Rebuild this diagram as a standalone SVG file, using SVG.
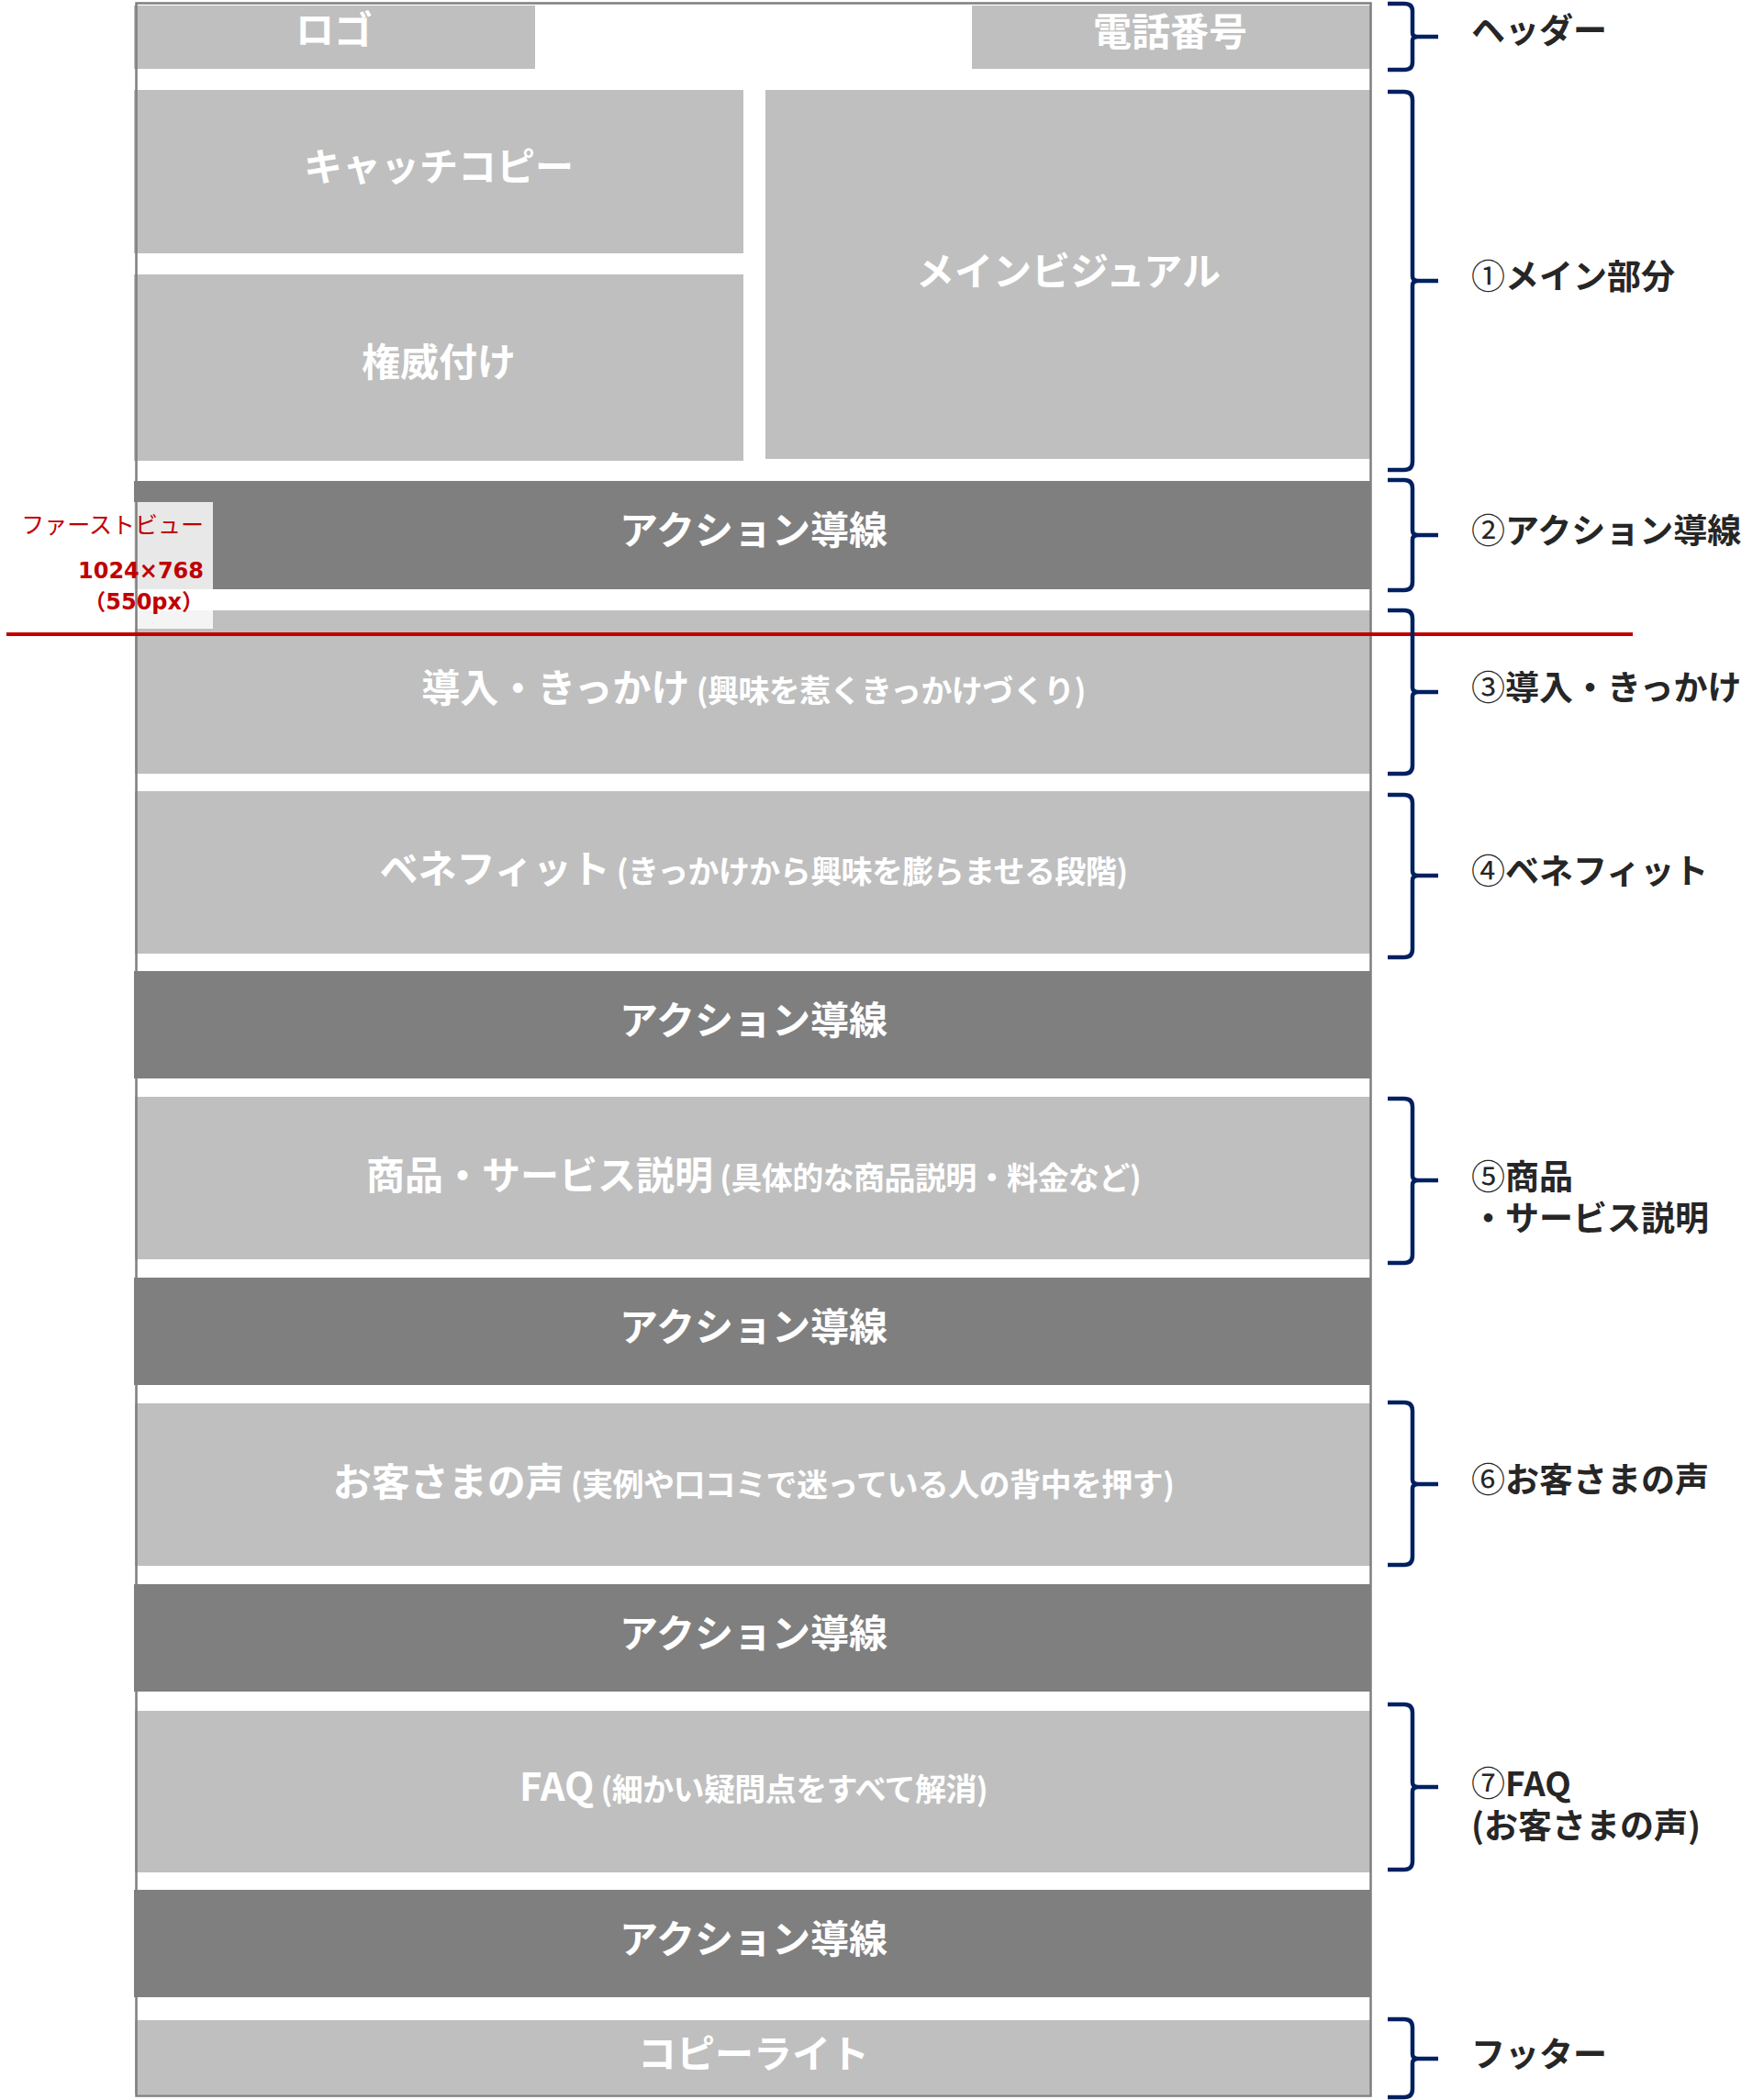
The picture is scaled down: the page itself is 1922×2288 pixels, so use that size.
<svg xmlns="http://www.w3.org/2000/svg" width="1922" height="2288" viewBox="0 0 1922 2288">
<style>
.lt{fill:#bfbfbf}
.ac{fill:#7f7f7f}
.bt{font-family:"Noto Sans CJK JP","Noto Sans",sans-serif;font-weight:700;font-size:42px;fill:#ffffff;text-anchor:middle}
.sm{font-size:34px;letter-spacing:-0.6px}
.lb{font-family:"Noto Sans CJK JP","Noto Sans",sans-serif;font-weight:700;font-size:37px;fill:#262626}
.cd{font-weight:400}
.brace{fill:none;stroke:#002060;stroke-width:4.5;stroke-linecap:butt;stroke-linejoin:round}
.fv{font-family:"Noto Sans CJK JP",sans-serif;font-size:25px;fill:#c00000;text-anchor:end}
.fvn{font-family:"DejaVu Sans","Noto Sans CJK JP",sans-serif;font-weight:700;font-size:24px;fill:#c00000;text-anchor:end}
</style>
<rect width="1922" height="2288" fill="#ffffff"/>

<g id="logo"><rect class="lt" x="146" y="6" width="437" height="69"/><text class="bt" x="364" y="48">ロゴ</text></g>
<g id="tel"><rect class="lt" x="1059" y="6" width="434" height="69"/><text class="bt" x="1275" y="50">電話番号</text></g>
<g id="catchcopy"><rect class="lt" x="146" y="98" width="664" height="178"/><text class="bt" x="478" y="197">キャッチコピー</text></g>
<g id="authority"><rect class="lt" x="146" y="299" width="664" height="203"/><text class="bt" x="478" y="410">権威付け</text></g>
<g id="mainvisual"><rect class="lt" x="834" y="98" width="659" height="402"/><text class="bt" x="1164" y="311">メインビジュアル</text></g>

<g id="action1"><rect class="ac" x="146" y="524" width="1348" height="118"/><text class="bt" x="821" y="593">アクション導線</text></g>
<g id="intro"><rect class="lt" x="147" y="665" width="1346" height="178"/><text class="bt" x="821" y="765">導入・きっかけ<tspan class="sm"> (興味を惹くきっかけづくり)</tspan></text></g>
<g id="benefit"><rect class="lt" x="147" y="862" width="1346" height="177"/><text class="bt" x="821" y="962">ベネフィット<tspan class="sm"> (きっかけから興味を膨らませる段階)</tspan></text></g>
<g id="action2"><rect class="ac" x="146" y="1058" width="1348" height="117"/><text class="bt" x="821" y="1127">アクション導線</text></g>
<g id="product"><rect class="lt" x="147" y="1195" width="1346" height="177"/><text class="bt" x="821" y="1296">商品・サービス説明<tspan class="sm"> (具体的な商品説明・料金など)</tspan></text></g>
<g id="action3"><rect class="ac" x="146" y="1392" width="1348" height="117"/><text class="bt" x="821" y="1461">アクション導線</text></g>
<g id="voice"><rect class="lt" x="147" y="1529" width="1346" height="177"/><text class="bt" x="821" y="1630">お客さまの声<tspan class="sm"> (実例や口コミで迷っている人の背中を押す)</tspan></text></g>
<g id="action4"><rect class="ac" x="146" y="1726" width="1348" height="117"/><text class="bt" x="821" y="1795">アクション導線</text></g>
<g id="faq"><rect class="lt" x="147" y="1864" width="1346" height="176"/><text class="bt" x="821" y="1962">FAQ<tspan class="sm"> (細かい疑問点をすべて解消)</tspan></text></g>
<g id="action5"><rect class="ac" x="146" y="2059" width="1348" height="117"/><text class="bt" x="821" y="2128">アクション導線</text></g>
<g id="copyright"><rect class="lt" x="147" y="2201" width="1346" height="81"/><text class="bt" x="821" y="2253">コピーライト</text></g>

<g id="firstview-label">
<rect x="0" y="547" width="232" height="138" fill="#ffffff" fill-opacity="0.82"/>
</g>
<rect id="frame" x="148.5" y="3.5" width="1345" height="2280" fill="none" stroke="#7f7f7f" stroke-width="2.5"/>
<g id="firstview-text">
<text class="fv" x="222" y="581">ファーストビュー</text>
<text class="fvn" x="222" y="630">1024×768</text>
<text class="fvn" x="222" y="664">（550px）</text>
</g>
<line id="firstview-line" x1="7" y1="691" x2="1779" y2="691" stroke="#c00000" stroke-width="4"/>

<g id="braces">
<path class="brace" d="M1512,4 L1530,4 Q1539,4 1539,12 L1539,36 Q1539,40 1545,40 L1567,40 M1545,40 Q1539,40 1539,44 L1539,68 Q1539,76 1530,76 L1512,76"/>
<path class="brace" d="M1512,100 L1530,100 Q1539,100 1539,109 L1539,301 Q1539,306 1545,306 L1567,306 M1545,306 Q1539,306 1539,311 L1539,503 Q1539,512 1530,512 L1512,512"/>
<path class="brace" d="M1512,523 L1530,523 Q1539,523 1539,532 L1539,578 Q1539,583 1545,583 L1567,583 M1545,583 Q1539,583 1539,588 L1539,634 Q1539,643 1530,643 L1512,643"/>
<path class="brace" d="M1512,665 L1530,665 Q1539,665 1539,674 L1539,749 Q1539,754 1545,754 L1567,754 M1545,754 Q1539,754 1539,759 L1539,834 Q1539,843 1530,843 L1512,843"/>
<path class="brace" d="M1512,866 L1530,866 Q1539,866 1539,875 L1539,949 Q1539,954 1545,954 L1567,954 M1545,954 Q1539,954 1539,959 L1539,1034 Q1539,1043 1530,1043 L1512,1043"/>
<path class="brace" d="M1512,1197 L1530,1197 Q1539,1197 1539,1206 L1539,1281 Q1539,1286 1545,1286 L1567,1286 M1545,1286 Q1539,1286 1539,1291 L1539,1367 Q1539,1376 1530,1376 L1512,1376"/>
<path class="brace" d="M1512,1528 L1530,1528 Q1539,1528 1539,1537 L1539,1612 Q1539,1617 1545,1617 L1567,1617 M1545,1617 Q1539,1617 1539,1622 L1539,1696 Q1539,1705 1530,1705 L1512,1705"/>
<path class="brace" d="M1512,1857 L1530,1857 Q1539,1857 1539,1866 L1539,1942 Q1539,1947 1545,1947 L1567,1947 M1545,1947 Q1539,1947 1539,1952 L1539,2028 Q1539,2037 1530,2037 L1512,2037"/>
<path class="brace" d="M1512,2200 L1530,2200 Q1539,2200 1539,2209 L1539,2238 Q1539,2243 1545,2243 L1567,2243 M1545,2243 Q1539,2243 1539,2248 L1539,2276 Q1539,2285 1530,2285 L1512,2285"/>
</g>

<g id="label-header"><text class="lb" x="1603" y="47">ヘッダー</text></g>
<g id="label-main"><text class="lb" x="1603" y="315"><tspan class="cd">①</tspan>メイン部分</text></g>
<g id="label-action"><text class="lb" x="1603" y="592"><tspan class="cd">②</tspan>アクション導線</text></g>
<g id="label-intro"><text class="lb" x="1603" y="763"><tspan class="cd">③</tspan>導入・きっかけ</text></g>
<g id="label-benefit"><text class="lb" x="1603" y="963"><tspan class="cd">④</tspan>ベネフィット</text></g>
<g id="label-product"><text class="lb" x="1603" y="1296"><tspan class="cd">⑤</tspan>商品<tspan x="1603" y="1341">・サービス説明</tspan></text></g>
<g id="label-voice"><text class="lb" x="1603" y="1626"><tspan class="cd">⑥</tspan>お客さまの声</text></g>
<g id="label-faq"><text class="lb" x="1603" y="1957"><tspan class="cd">⑦</tspan>FAQ<tspan x="1603" y="2003">(お客さまの声)</tspan></text></g>
<g id="label-footer"><text class="lb" x="1603" y="2252">フッター</text></g>
</svg>
